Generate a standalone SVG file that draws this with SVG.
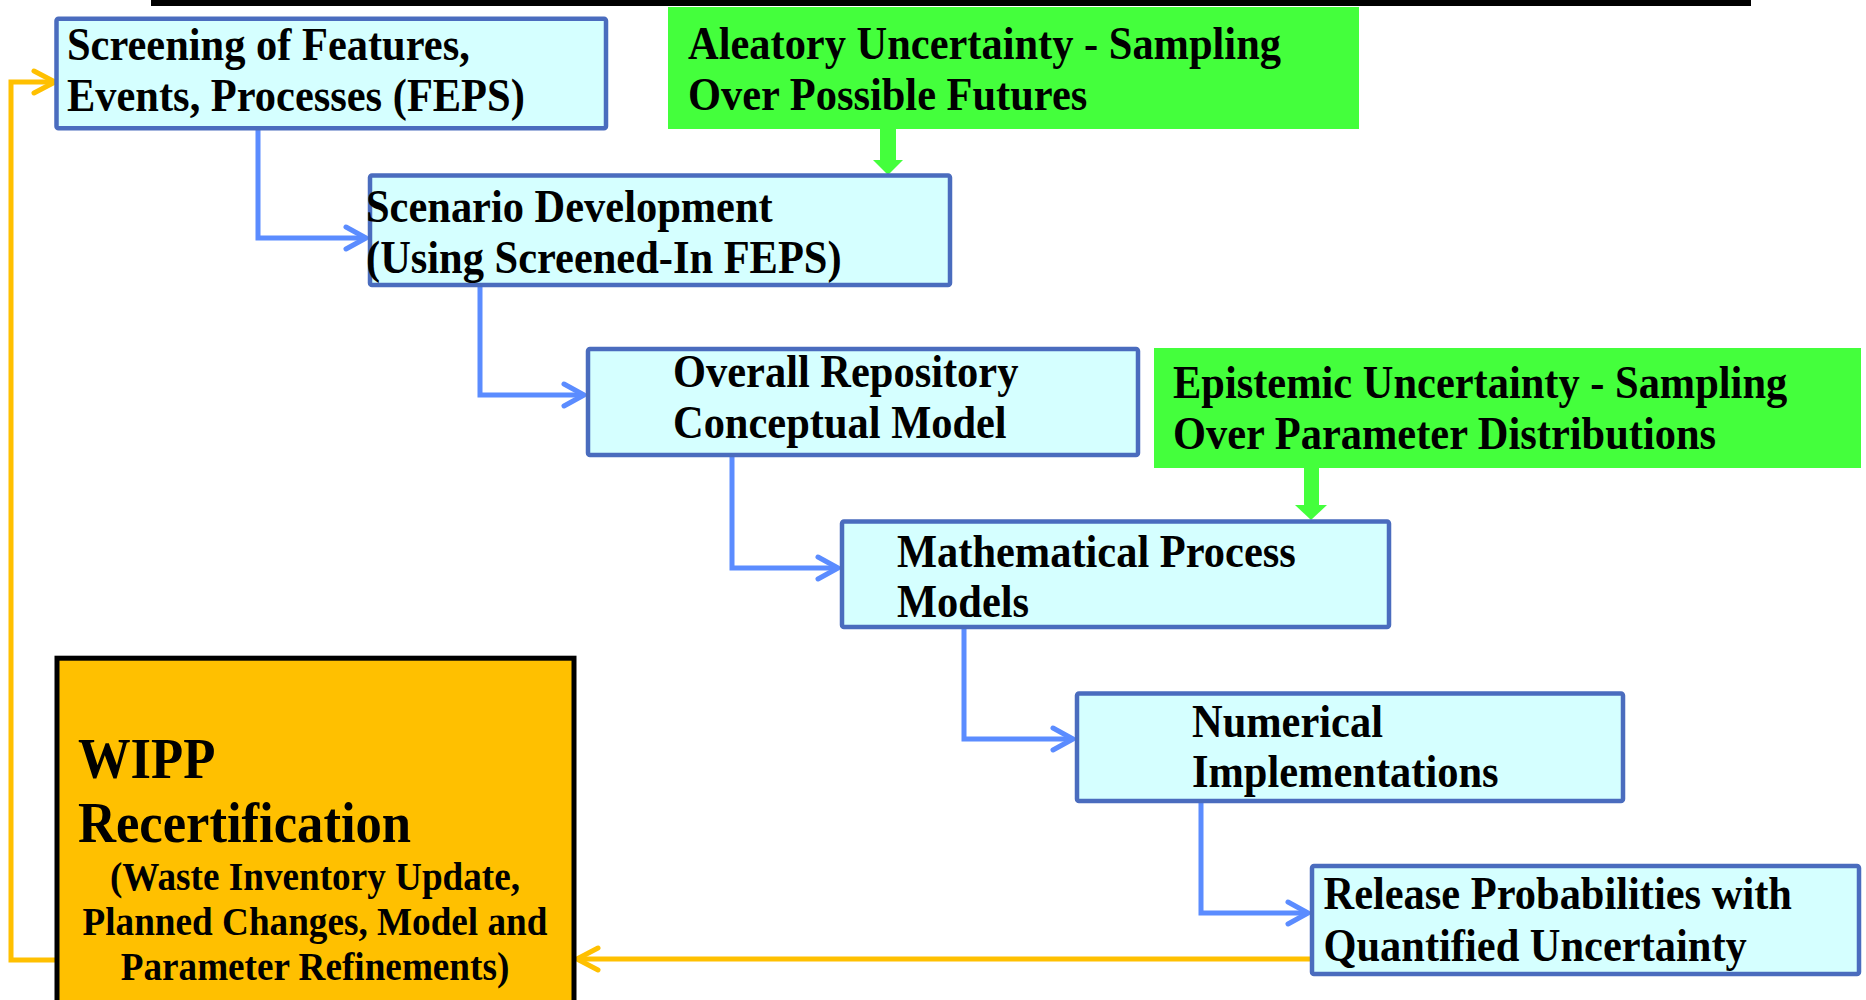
<svg xmlns="http://www.w3.org/2000/svg" width="1866" height="1000" viewBox="0 0 1866 1000">
<style>
.box{fill:#D5FFFF;stroke:#4A6CBE;stroke-width:4.5}
.grn{fill:#44FF3C}
.wipp{fill:#FFC000;stroke:#000;stroke-width:5}
.t{font-family:"Liberation Serif","Times New Roman",serif;font-weight:bold;font-size:46px;fill:#000}
.big{font-size:56px}
.sub{font-size:40px}
.bc{fill:none;stroke:#5B8CFF;stroke-width:5}
.oc{fill:none;stroke:#FFC000;stroke-width:5}
</style>
<defs>
<marker id="ab" markerUnits="userSpaceOnUse" markerWidth="30" markerHeight="30" viewBox="-25 -15 30 30" refX="0" refY="0" orient="auto" overflow="visible">
<path d="M-20,-11 L0,0 L-20,11" fill="none" stroke="#5B8CFF" stroke-width="5" stroke-linecap="round" stroke-linejoin="round"/>
</marker>
<marker id="ao" markerUnits="userSpaceOnUse" markerWidth="30" markerHeight="30" viewBox="-25 -15 30 30" refX="0" refY="0" orient="auto" overflow="visible">
<path d="M-21,-11 L0,0 L-21,11" fill="none" stroke="#FFC000" stroke-width="5" stroke-linecap="round" stroke-linejoin="round"/>
</marker>
</defs>
<rect x="0" y="0" width="1866" height="1000" fill="#fff"/>
<rect id="topbar" x="151" y="0" width="1600" height="6" fill="#000"/>

<g id="connectors">
<path class="bc" d="M258,130 V238 H366" marker-end="url(#ab)"/>
<path class="bc" d="M480,287 V395 H584" marker-end="url(#ab)"/>
<path class="bc" d="M732,457 V568 H838" marker-end="url(#ab)"/>
<path class="bc" d="M964,628 V739 H1073" marker-end="url(#ab)"/>
<path class="bc" d="M1201,803 V913 H1308" marker-end="url(#ab)"/>
<path class="oc" d="M1310,959 H577" marker-end="url(#ao)"/>
<path class="oc" d="M55,960 H11 V82 H55" marker-end="url(#ao)"/>
<g fill="#44FF3C">
<rect x="880" y="128" width="16" height="33"/>
<polygon points="873,160 903,160 888,175"/>
<rect x="1304" y="467" width="15" height="39"/>
<polygon points="1295,505 1327,505 1311,520"/>
</g>
</g>

<g id="n-feps">
<rect class="box" x="56.5" y="18.7" width="549.5" height="109.5" rx="2"/>
<text class="t" transform="translate(67,0) scale(0.923,1)"><tspan x="0" y="60">Screening of Features,</tspan><tspan x="0" y="110.7">Events, Processes (FEPS)</tspan></text>
</g>

<g id="n-aleatory">
<rect class="grn" x="668" y="7" width="691" height="122"/>
<text class="t" transform="translate(688,0) scale(0.923,1)"><tspan x="0" y="59">Aleatory Uncertainty - Sampling</tspan><tspan x="0" y="110">Over Possible Futures</tspan></text>
</g>

<g id="n-scenario">
<rect class="box" x="370" y="175.5" width="580" height="109.5" rx="2"/>
<text class="t" transform="translate(366,0) scale(0.923,1)"><tspan x="0" y="222">Scenario Development</tspan><tspan x="0" y="273">(Using Screened-In FEPS)</tspan></text>
</g>

<g id="n-overall">
<rect class="box" x="588" y="349" width="550" height="106" rx="2"/>
<text class="t" transform="translate(673,0) scale(0.923,1)"><tspan x="0" y="387">Overall Repository</tspan><tspan x="0" y="438">Conceptual Model</tspan></text>
</g>

<g id="n-epistemic">
<rect class="grn" x="1154" y="348" width="707" height="120"/>
<text class="t" transform="translate(1173,0) scale(0.923,1)"><tspan x="0" y="398">Epistemic Uncertainty - Sampling</tspan><tspan x="0" y="449">Over Parameter Distributions</tspan></text>
</g>

<g id="n-math">
<rect class="box" x="842" y="521.5" width="547" height="105.5" rx="2"/>
<text class="t" transform="translate(897,0) scale(0.923,1)"><tspan x="0" y="567">Mathematical Process</tspan><tspan x="0" y="617">Models</tspan></text>
</g>

<g id="n-numerical">
<rect class="box" x="1077" y="693.5" width="546" height="107.5" rx="2"/>
<text class="t" transform="translate(1192,0) scale(0.923,1)"><tspan x="0" y="737">Numerical</tspan><tspan x="0" y="787">Implementations</tspan></text>
</g>

<g id="n-release">
<rect class="box" x="1312" y="866" width="547" height="108" rx="2"/>
<text class="t" transform="translate(1323.5,0) scale(0.923,1)"><tspan x="0" y="909">Release Probabilities with</tspan><tspan x="0" y="961">Quantified Uncertainty</tspan></text>
</g>

<g id="n-wipp">
<rect class="wipp" x="57" y="658.2" width="517" height="360"/>
<text class="t big" transform="translate(78,0) scale(0.94,1)"><tspan x="0" y="778">WIPP</tspan><tspan x="0" y="842">Recertification</tspan></text>
<text class="t sub" text-anchor="middle" transform="translate(315,0) scale(0.93,1)"><tspan x="0" y="890">(Waste Inventory Update,</tspan><tspan x="0" y="935">Planned Changes, Model and</tspan><tspan x="0" y="980">Parameter Refinements)</tspan></text>
</g>
</svg>
